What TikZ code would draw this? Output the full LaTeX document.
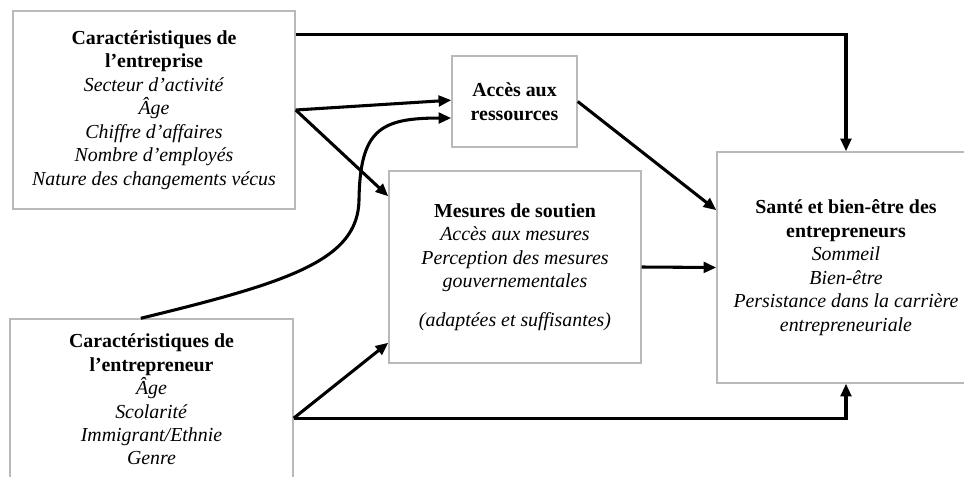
\documentclass[tikz,border=0pt]{standalone}
\usepackage{fontspec}
\setmainfont{Liberation Serif}
\usetikzlibrary{arrows.meta}

\begin{document}
\begin{tikzpicture}[x=0.75pt, y=-0.75pt, >={Triangle[length=9.5pt, width=8pt]}]
  \useasboundingbox (0,0) rectangle (964,476);

  % Boxes
  \begin{scope}[every node/.style={draw=gray!55, line width=1.1pt, fill=white, align=center, inner sep=0pt, font=\fontsize{14.9}{17.6}\selectfont}]
    \node[minimum width=211.5pt, minimum height=148.5pt] (entreprise) at (154,110)
      {\textbf{Caractéristiques de}\\ \textbf{l’entreprise}\\ \textit{Secteur d’activité}\\ \textit{Âge}\\ \textit{Chiffre d’affaires}\\ \textit{Nombre d’employés}\\ \textit{Nature des changements vécus}};

    \node[minimum width=93.75pt, minimum height=68.25pt] (acces) at (514.5,101.5)
      {\textbf{Accès aux}\\ \textbf{ressources}};

    \node[minimum width=189pt, minimum height=144pt] (mesures) at (515,267)
      {\textbf{Mesures de soutien}\\ \textit{Accès aux mesures}\\ \textit{Perception des mesures}\\ \textit{gouvernementales}\\[11pt] \textit{(adaptées et suffisantes)}};

    \node[minimum width=193.5pt, minimum height=173.25pt] (sante) at (846,267.5)
      {\textbf{Santé et bien-être des}\\ \textbf{entrepreneurs}\\ \textit{Sommeil}\\ \textit{Bien-être}\\ \textit{Persistance dans la carrière}\\ \textit{entrepreneuriale}};

    \node[minimum width=212.25pt, minimum height=120.75pt] (entrepreneur) at (151.5,399.5)
      {\textbf{Caractéristiques de}\\ \textbf{l’entrepreneur}\\ \textit{Âge}\\ \textit{Scolarité}\\ \textit{Immigrant/Ethnie}\\ \textit{Genre}};
  \end{scope}

  % Arrows
  \begin{scope}[line width=2.3pt]
    \draw[->] ([yshift=-18pt]entreprise.north east) -| (sante.north);
    \draw[->] (entreprise.east) -- ([yshift=1pt]acces.west);
    \draw[->] (entreprise.east) -- ([yshift=-19.5pt]mesures.north west);

    \draw[->] ([xshift=-8pt]entrepreneur.north) .. controls (290,282) and (358,260) .. (359,200)
      .. controls (360,130) and (380,118) .. ([yshift=-12.4pt]acces.west);

    \draw[->] (acces.east) -- ([yshift=43pt]sante.west);
    \draw[->] (mesures.east) -- (sante.west);

    \draw[->] ([yshift=-14pt]entrepreneur.east) -- ([yshift=15.75pt]mesures.south west);
    \draw[->] ([yshift=-14pt]entrepreneur.east) -| (sante.south);
  \end{scope}
\end{tikzpicture}
\end{document}
